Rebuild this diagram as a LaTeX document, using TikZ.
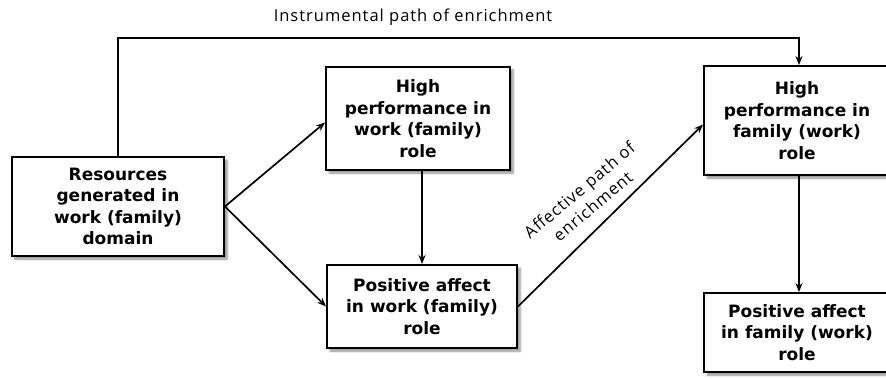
\documentclass[tikz,border=0pt]{standalone}
\usepackage{fontspec}
\setmainfont{DejaVu Sans}
\newfontfamily\labfont[LetterSpace=6]{Open Sans}
\usetikzlibrary{shadows.blur,arrows.meta}
\begin{document}
\begin{tikzpicture}[x=1pt,y=-1pt,
  box/.style={draw, line width=1.9pt, fill=white,
    blur shadow={shadow xshift=3pt, shadow yshift=-3pt, shadow blur steps=6, shadow opacity=45},
    align=center, font=\bfseries\fontsize{17}{21.5}\selectfont, inner sep=0pt},
  arr/.style={-{Stealth[length=9pt,width=7pt]}, line width=1.7pt},
  lab/.style={font=\labfont\fontsize{16.5}{21}\selectfont, align=center, inner sep=0pt}]
\useasboundingbox (0,0) rectangle (886,379);
\clip (0,0) rectangle (886,379);
\node[box, minimum width=212pt, minimum height=99pt] (A) at (118,206.5) {Resources\\generated in\\work (family)\\domain};
\node[box, minimum width=184pt, minimum height=103pt] (B) at (418,118.5) {High\\performance in\\work (family)\\role};
\node[box, minimum width=190pt, minimum height=83pt] (C) at (422,306.5) {Positive affect\\in work (family)\\role};
\node[box, minimum width=186pt, minimum height=109pt] (D) at (797,120.5) {High\\performance in\\family (work)\\role};
\node[box, minimum width=186pt, minimum height=79pt] (E) at (797,332.5) {Positive affect\\in family (work)\\role};
\coordinate (t) at (0,38);
\draw[arr] (A.east) -- ([yshift=-4pt]B.west);
\draw[arr] (A.east) -- (C.west);
\draw[arr] (B.south -| C.north) -- (C.north);
\draw[arr] (C.east) -- ([yshift=-4pt]D.west);
\draw[arr] ([xshift=2pt]D.south) -- ([xshift=2pt]E.north);
\draw[arr] (A.north) |- ([xshift=2pt]t -| D.north) -- ([xshift=2pt]D.north);
\node[lab] (L1) at (413,17) {Instrumental path of enrichment};
\node[lab, rotate=40] (L2) at (586,198) {Affective path of\\enrichment};
\end{tikzpicture}
\end{document}
